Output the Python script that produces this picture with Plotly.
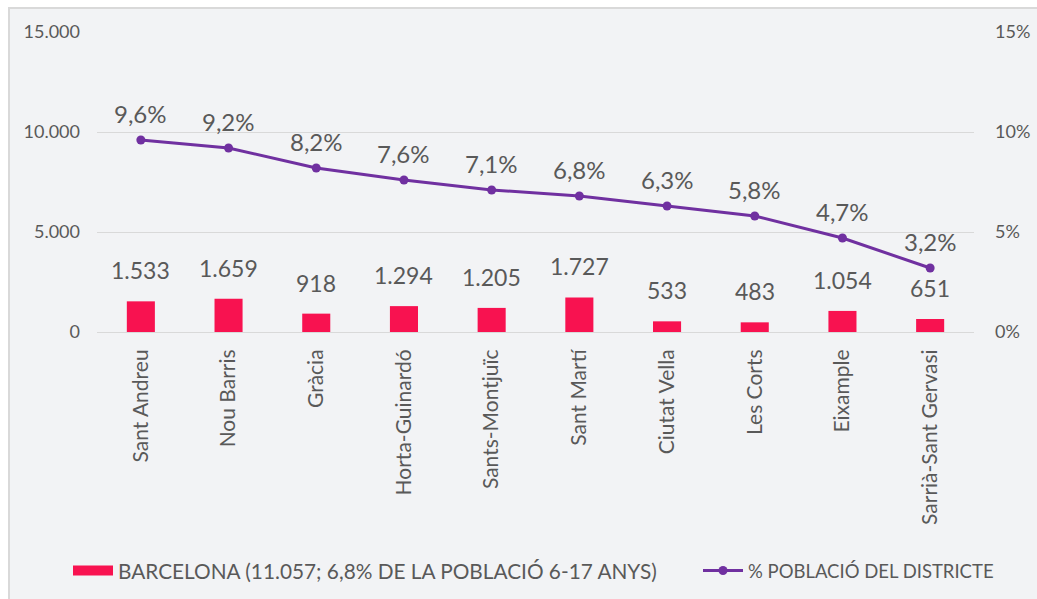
import plotly.graph_objects as go

districts = ["Sant Andreu", "Nou Barris", "Gràcia", "Horta-Guinardó", "Sants-Montjuïc",
             "Sant Martí", "Ciutat Vella", "Les Corts", "Eixample", "Sarrià-Sant Gervasi"]
children = [1533, 1659, 918, 1294, 1205, 1727, 533, 483, 1054, 651]
pct_district = [9.6, 9.2, 8.2, 7.6, 7.1, 6.8, 6.3, 5.8, 4.7, 3.2]
left_ticks = [0, 5000, 10000, 15000]
right_ticks = [0, 5, 10, 15]
right_tick_labels = ["0%", "5%", "10%", "15%"]
bar_name = "BARCELONA (11.057; 6,8% DE LA POBLACIÓ 6-17 ANYS)"
line_name = "% POBLACIÓ DEL DISTRICTE"

FONT = "Lato, 'Open Sans', sans-serif"
TXT = "#595959"
BAR_C = "#F81250"
LINE_C = "#7030A0"


def fmt_thousands(v):
    return f"{v:,.0f}".replace(",", ".")


def fmt_pct(v):
    return f"{v:.1f}".replace(".", ",") + "%"


fig = go.Figure()
fig.add_trace(go.Bar(
    x=districts, y=children, name=bar_name, showlegend=False,
    marker=dict(color=BAR_C, line=dict(width=0)), width=0.32,
))
# legend entry for the bars (wide rectangle swatch)
fig.add_trace(go.Scatter(
    x=[None], y=[None], name=bar_name, mode="lines", legend="legend",
    line=dict(color=BAR_C, width=13),
))
fig.add_trace(go.Scatter(
    x=districts, y=pct_district, name=line_name, yaxis="y2", legend="legend2",
    mode="lines+markers",
    line=dict(color=LINE_C, width=3), marker=dict(color=LINE_C, size=9),
))

annotations = []
for d, v in zip(districts, children):
    annotations.append(dict(x=d, y=v, xref="x", yref="y", text=fmt_thousands(v),
                            showarrow=False, yanchor="middle", yshift=31,
                            font=dict(size=23, color=TXT, family=FONT)))
for d, v in zip(districts, pct_district):
    annotations.append(dict(x=d, y=v, xref="x", yref="y2", text=fmt_pct(v),
                            showarrow=False, yanchor="middle", yshift=27,
                            font=dict(size=24, color=TXT, family=FONT)))

W, H = 1037, 599
ml, mr, mt, mb = 97, 63, 32, 267
pw, ph = W - ml - mr, H - mt - mb


def px_x(p):
    return (p - ml) / pw


def px_y(p):
    return (H - p - mb) / ph


fig.update_layout(
    width=W, height=H,
    margin=dict(l=ml, r=mr, t=mt, b=mb, pad=0, autoexpand=False),
    paper_bgcolor="white", plot_bgcolor="rgba(0,0,0,0)",
    separators=",.",
    font=dict(family=FONT, color=TXT, size=17),
    showlegend=True,
    legend=dict(orientation="h", x=px_x(68), y=px_y(571), xanchor="left", yanchor="middle",
                font=dict(size=20.8, color=TXT, family=FONT), bgcolor="rgba(0,0,0,0)",
                itemwidth=40, tracegroupgap=0),
    legend2=dict(orientation="h", x=px_x(698), y=px_y(571), xanchor="left", yanchor="middle",
                 font=dict(size=18.5, color=TXT, family=FONT), bgcolor="rgba(0,0,0,0)",
                 itemwidth=40, tracegroupgap=0),
    xaxis=dict(range=[-0.5, len(districts) - 0.5], tickangle=-90,
               tickfont=dict(size=21, color=TXT), showgrid=False,
               showline=False, ticks="outside", ticklen=8, tickcolor="rgba(0,0,0,0)",
               automargin=False),
    yaxis=dict(range=[0, 15000], tickvals=left_ticks, tickformat=",.0f",
               showgrid=True, gridcolor="#D9D9D9", gridwidth=1, zeroline=True,
               zerolinecolor="#D9D9D9", zerolinewidth=1, showline=False,
               tickfont=dict(size=18, color=TXT), ticklabelstandoff=16, automargin=False),
    yaxis2=dict(range=[0, 15], tickvals=right_ticks, ticktext=right_tick_labels,
                overlaying="y", side="right", showgrid=False, zeroline=False, showline=False,
                tickfont=dict(size=18, color=TXT), ticklabelstandoff=20, automargin=False),
    annotations=annotations,
    shapes=[dict(type="rect", xref="paper", yref="paper",
                 x0=px_x(9), x1=px_x(1045), y0=px_y(605), y1=px_y(8),
                 fillcolor="#F2F3F5", line=dict(color="#D9D9D9", width=2), layer="below")],
)

fig.write_html("out.html", config={"displayModeBar": False},
               post_script="document.body.style.margin='0';document.body.style.overflow='hidden';")
